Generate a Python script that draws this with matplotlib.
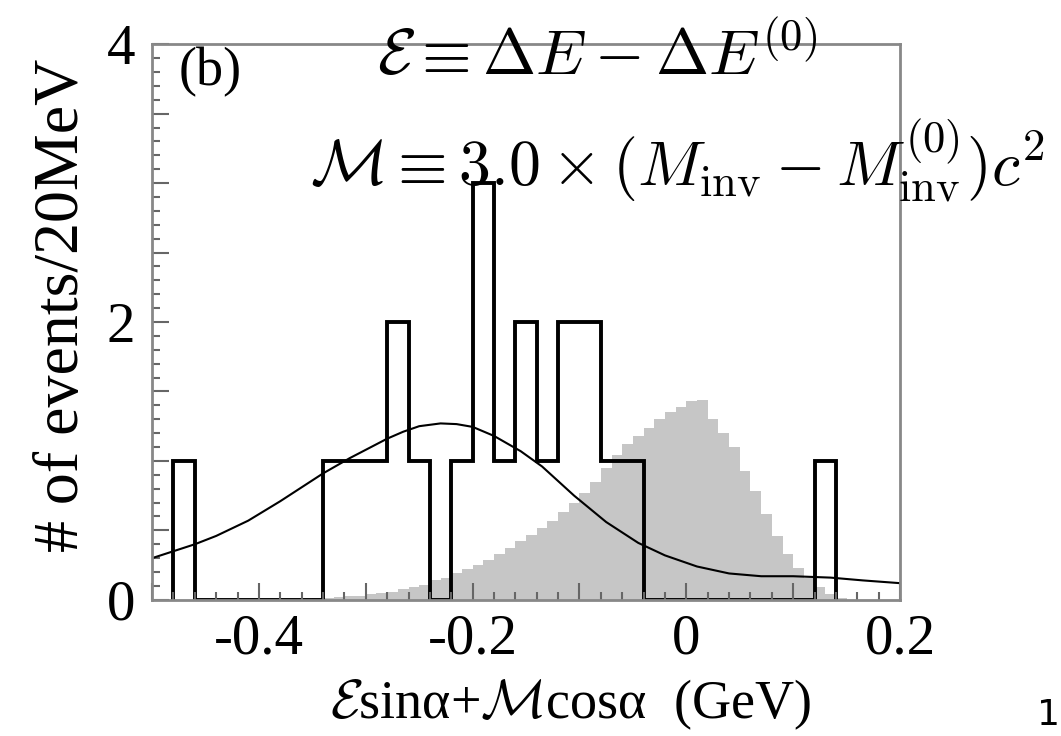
import numpy as np
import matplotlib
matplotlib.use("Agg")
import matplotlib.pyplot as plt
from matplotlib.ticker import MultipleLocator, FuncFormatter

plt.rcParams['font.family'] = ['Liberation Serif', 'DejaVu Serif']
plt.rcParams['mathtext.fontset'] = 'cm'

# data histogram, 20 MeV bins (left edges, counts)
data_left = np.round(np.arange(-0.48, 0.121, 0.02), 3)
data_counts = [1, 0, 0, 0, 0, 0, 0, 1, 1, 1, 2, 1, 0, 1, 3, 1,
               2, 1, 2, 2, 1, 1, 0, 0, 0, 0, 0, 0, 0, 0, 1]

# MC expectation (gray), 10 MeV bins
mc_left = np.round(np.arange(-0.35, 0.141, 0.01), 3)
mc_vals = [0.01, 0.015, 0.02, 0.025, 0.03, 0.04, 0.05, 0.06, 0.075, 0.09,
           0.11, 0.14, 0.16, 0.19, 0.22, 0.25, 0.29, 0.33, 0.37, 0.42,
           0.47, 0.52, 0.57, 0.63, 0.70, 0.77, 0.85, 0.95, 1.04, 1.12,
           1.18, 1.24, 1.30, 1.35, 1.39, 1.43, 1.44, 1.30, 1.20, 1.10,
           0.93, 0.78, 0.62, 0.46, 0.33, 0.23, 0.16, 0.09, 0.04, 0.01]

# fit curve
fit_x = [-0.5, -0.48, -0.46, -0.44, -0.41, -0.38, -0.34, -0.315, -0.295, -0.28,
         -0.265, -0.25, -0.23, -0.215, -0.2, -0.18, -0.155, -0.135, -0.105,
         -0.075, -0.045, -0.02, 0.01, 0.04, 0.07, 0.1, 0.135, 0.165, 0.2]
fit_y = [0.30, 0.35, 0.40, 0.46, 0.57, 0.71, 0.91, 1.02, 1.10, 1.16,
         1.21, 1.25, 1.27, 1.265, 1.245, 1.18, 1.07, 0.96, 0.75,
         0.56, 0.41, 0.32, 0.24, 0.19, 0.17, 0.17, 0.16, 0.14, 0.12]

fig = plt.figure(figsize=(10.61, 7.36), dpi=100)
ax = fig.add_axes([0.1433, 0.185, 0.705, 0.755])

mc_edges = np.append(mc_left, mc_left[-1] + 0.01)
ax.stairs(mc_vals, mc_edges, fill=True, color='#c6c6c6', lw=0)

data_edges = np.append(data_left, data_left[-1] + 0.02)
ax.stairs(data_counts, data_edges, color='black', lw=2.8)

ax.plot(fit_x, fit_y, color='black', lw=1.5)

ax.set_xlim(-0.5, 0.2)
ax.set_ylim(0, 4)

ax.xaxis.set_major_locator(MultipleLocator(0.1))
ax.xaxis.set_minor_locator(MultipleLocator(0.02))
ax.yaxis.set_major_locator(MultipleLocator(0.5))
ax.yaxis.set_minor_locator(MultipleLocator(0.1))

def xfmt(v, pos):
    if abs(round(v / 0.2) * 0.2 - v) > 1e-6:
        return ''
    if abs(v) < 1e-9:
        return '0'
    return '%.1f' % v

def yfmt(v, pos):
    if abs(v - round(v)) < 1e-6 and int(round(v)) % 2 == 0:
        return '%d' % round(v)
    return ''

ax.xaxis.set_major_formatter(FuncFormatter(xfmt))
ax.yaxis.set_major_formatter(FuncFormatter(yfmt))

ax.tick_params(which='both', direction='in', color='#666666', width=1.5,
               top=False, right=False, labelsize=41)
ax.tick_params(which='major', length=12)
ax.tick_params(which='minor', length=6)
ax.tick_params(axis='x', pad=10)
ax.tick_params(axis='y', pad=12)
for s in ax.spines.values():
    s.set_color('#888888')
    s.set_linewidth(2)

ax.set_xlabel(r'$\mathcal{E}$sinα+$\mathcal{M}$cosα  (GeV)', fontsize=39)
ax.xaxis.set_label_coords(0.559, -0.14)
ax.set_ylabel('# of events/20MeV', fontsize=46)
ax.yaxis.set_label_coords(-0.08, 0.53)

ax.text(0.035, 0.995, '(b)', transform=ax.transAxes, fontsize=39, va='top', ha='left')

fig.text(0.563, 1 - 75 / 736, r'$\mathcal{E} \equiv \Delta E - \Delta E^{(0)}$',
         fontsize=46, ha='center', va='baseline')
fig.text(0.292, 1 - 185 / 736, r'$\mathcal{M} \equiv 3.0 \times (M_{\rm inv} - M_{\rm inv}^{(0)})c^2$',
         fontsize=46, ha='left', va='baseline')

fig.text(0.999, 0.028, '1', fontsize=26, family='DejaVu Sans', ha='right', va='center')

fig.savefig('out.png', dpi=100)
